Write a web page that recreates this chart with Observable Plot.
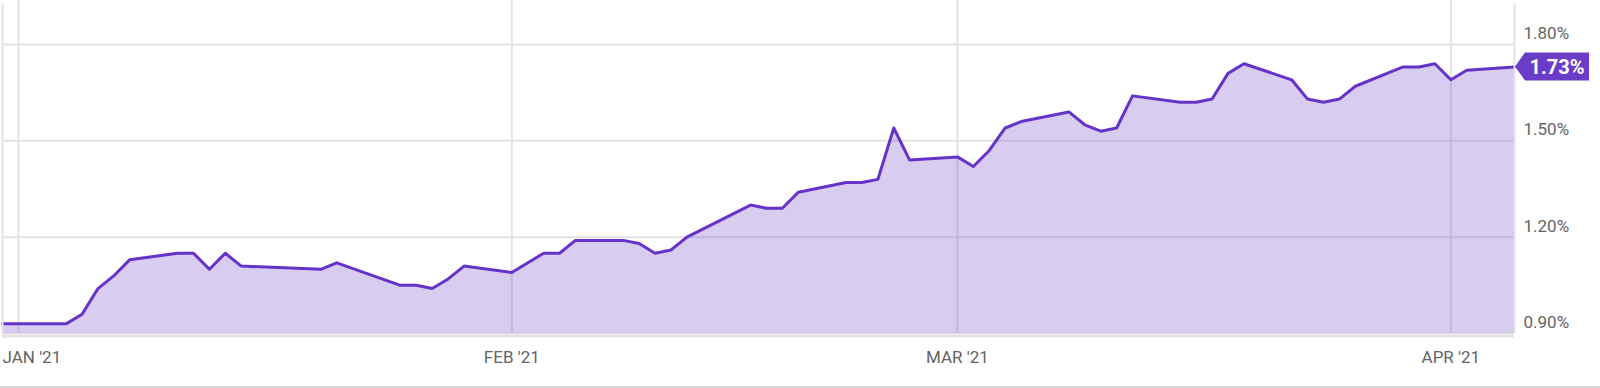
<!DOCTYPE html>
<html>
<head>
<meta charset="utf-8">
<script src="https://cdn.jsdelivr.net/npm/d3@7"></script>
<script src="https://cdn.jsdelivr.net/npm/@observablehq/plot@0.6"></script>
<style>
  html, body { margin: 0; padding: 0; background: #fff; }
  #chart { width: 1600px; height: 386px; border-bottom: 2px solid #d6d6d6; overflow: hidden; }
  #chart svg { display: block; }
</style>
</head>
<body>
<div id="chart"></div>
<script>
// ---- data ----
const dates = [
  "2020-12-31","2021-01-04","2021-01-05","2021-01-06","2021-01-07","2021-01-08",
  "2021-01-11","2021-01-12","2021-01-13","2021-01-14","2021-01-15",
  "2021-01-20","2021-01-21","2021-01-25","2021-01-26","2021-01-27","2021-01-28","2021-01-29",
  "2021-02-01","2021-02-03","2021-02-04","2021-02-05",
  "2021-02-08","2021-02-09","2021-02-10","2021-02-11","2021-02-12",
  "2021-02-16","2021-02-17","2021-02-18","2021-02-19",
  "2021-02-22","2021-02-23","2021-02-24","2021-02-25","2021-02-26",
  "2021-03-01","2021-03-02","2021-03-03","2021-03-04","2021-03-05",
  "2021-03-08","2021-03-09","2021-03-10","2021-03-11","2021-03-12",
  "2021-03-15","2021-03-16","2021-03-17","2021-03-18","2021-03-19",
  "2021-03-22","2021-03-23","2021-03-24","2021-03-25","2021-03-26",
  "2021-03-29","2021-03-30","2021-03-31","2021-04-01","2021-04-02",
  "2021-04-05"
];
const yields = [
  0.93, 0.93, 0.96, 1.04, 1.08, 1.13,
  1.15, 1.15, 1.10, 1.15, 1.11,
  1.10, 1.12, 1.05, 1.05, 1.04, 1.07, 1.11,
  1.09, 1.15, 1.15, 1.19,
  1.19, 1.18, 1.15, 1.16, 1.20,
  1.30, 1.29, 1.29, 1.34,
  1.37, 1.37, 1.38, 1.54, 1.44,
  1.45, 1.42, 1.47, 1.54, 1.56,
  1.59, 1.55, 1.53, 1.54, 1.64,
  1.62, 1.62, 1.63, 1.71, 1.74,
  1.69, 1.63, 1.62, 1.63, 1.67,
  1.73, 1.73, 1.74, 1.69, 1.72,
  1.73
];
const monthTicks = ["2021-01-01","2021-02-01","2021-03-01","2021-04-01"];
const monthLabels = ["JAN '21","FEB '21","MAR '21","APR '21"];
const yTicks = [0.90, 1.20, 1.50, 1.80];
const yTop = 1.937;

// ---- build table ----
const data = dates.map((d, i) => ({date: new Date(d), value: yields[i]}));
const ticks = monthTicks.map((d, i) => ({date: new Date(d), label: monthLabels[i]}));
const first = data[0], last = data[data.length - 1];

const purple = "#6633c9";
const gridColor = "#e3e3e3";
const textColor = "#646464";
const font = "Roboto, 'Noto Sans', sans-serif";

function valueTag(index, scales) {
  const x = scales.x(last.date) + 1;
  const y = scales.y(last.value);
  const h = 28, w = 64, p = 10;
  const g = d3.create("svg:g");
  g.append("path")
    .attr("d", `M${x},${y}L${x + p},${y - h / 2}H${x + p + w}V${y + h / 2}H${x + p}Z`)
    .attr("fill", "#6a3dc8");
  g.append("text")
    .attr("x", x + p + w / 2)
    .attr("y", y)
    .attr("dy", "0.36em")
    .attr("text-anchor", "middle")
    .attr("fill", "#fff")
    .attr("font-family", font)
    .attr("font-weight", "bold")
    .attr("font-size", 20)
    .text(last.value.toFixed(2) + "%");
  return g.node();
}

const chart = Plot.plot({
  width: 1600,
  height: 386,
  marginLeft: 2,
  marginRight: 86,
  marginTop: 0,
  marginBottom: 53,
  style: {fontFamily: font, color: textColor, background: "#fff", overflow: "visible"},
  x: {type: "utc", domain: [first.date, last.date], axis: null},
  y: {domain: [yTicks[0], yTop], axis: null},
  marks: [
    Plot.ruleX(ticks, {x: "date", stroke: gridColor, strokeWidth: 2}),
    Plot.ruleY(yTicks, {stroke: gridColor, strokeWidth: 2}),
    Plot.areaY(data, {x: "date", y1: yTicks[0], y2: "value", fill: purple, fillOpacity: 0.25}),
    Plot.lineY(data, {x: "date", y: "value", stroke: purple, strokeWidth: 3, strokeLinejoin: "round"}),
    Plot.ruleY([yTicks[0]], {stroke: gridColor, strokeWidth: 3, dy: 2.5}),
    Plot.ruleX([first.date, last.date], {stroke: gridColor, strokeWidth: 2, y1: yTicks[0], y2: yTop, insetBottom: -4}),
    Plot.axisY({anchor: "right", ticks: yTicks, tickSize: 0, tickPadding: 9, dy: -11,
      fontSize: 17, tickFormat: d => d.toFixed(2) + "%", label: null}),
    Plot.text(ticks.slice(0, 1), {x: () => first.date, text: "label", frameAnchor: "bottom",
      lineAnchor: "top", dy: 17, textAnchor: "start", fontSize: 17, fill: textColor}),
    Plot.text(ticks.slice(1), {x: "date", text: "label", frameAnchor: "bottom",
      lineAnchor: "top", dy: 17, textAnchor: "middle", fontSize: 17, fill: textColor}),
    valueTag
  ]
});
document.getElementById("chart").appendChild(chart);
</script>
</body>
</html>
